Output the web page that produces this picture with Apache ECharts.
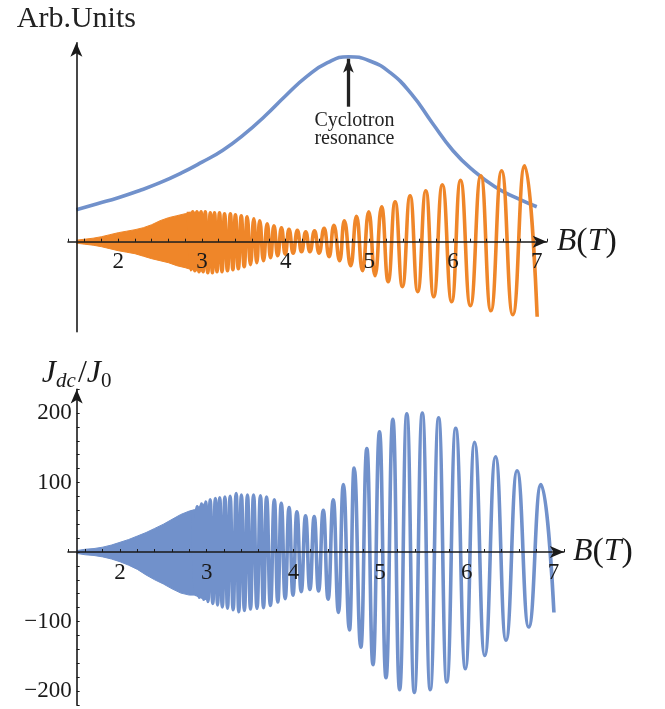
<!DOCTYPE html>
<html><head><meta charset="utf-8">
<script src="https://cdn.jsdelivr.net/npm/echarts@6/dist/echarts.min.js"></script>
<style>html,body{margin:0;padding:0;background:#fff}#c{width:665px;height:709px}</style>
</head><body><div id="c"></div>
<script>
// ---- data ----
// B positions of oscillation maxima / minima (shared by both panels)
const peakB = [2.84, 2.89, 2.94, 2.99, 3.04, 3.10, 3.15, 3.21, 3.27, 3.34, 3.40, 3.47, 3.54, 3.62, 3.69, 3.78, 3.86, 3.95, 4.04, 4.14, 4.24, 4.345, 4.46, 4.576, 4.70, 4.847, 4.993, 5.147, 5.308, 5.487, 5.675, 5.872, 6.089, 6.332, 6.58, 6.855];
const troughB = [2.865, 2.915, 2.965, 3.015, 3.07, 3.125, 3.18, 3.24, 3.305, 3.37, 3.435, 3.505, 3.58, 3.655, 3.735, 3.82, 3.905, 3.995, 4.09, 4.19, 4.29, 4.40, 4.52, 4.647, 4.778, 4.918, 5.068, 5.225, 5.395, 5.578, 5.769, 5.984, 6.207, 6.452, 6.714, 7.005];
// top panel (orange, arb. units)
const topPeakVal = [30,30,30,30,30,29,29,29,28,28,27,26,25,23,21,18,16,14,12.5,11.5,10,11,13.5,16.5,21,25.5,30,35,40,46,51,57,61.5,66,71,76];
const topTroughVal = [-28,-29,-30,-30,-31,-31,-30,-30,-29,-28,-27,-25,-23,-21,-19,-16,-14,-12.5,-11.5,-10,-10,-11.5,-15,-19,-24,-29,-34,-40,-45,-50,-55,-60,-64,-69,-73,-75];
// bottom panel (J_dc/J_0)
const botPeakVal = [60,65,69,72,75,77,78,79,80,84,82,82,82,81,79,75,70,64,58,52,51,60,75,97,121,149,173,191,199,200,193,178,158,137,117,97];
const botTroughVal = [-61,-65,-68,-71,-74,-76,-79,-81,-83,-86,-84,-82,-81,-80,-77,-72,-67,-62,-57,-54,-56,-68,-87,-112,-137,-162,-181,-198,-202,-198,-187,-168,-149,-127,-108,-87];
// unresolved (dense) oscillation region: envelopes
const bandB = [1.5, 1.6, 1.7, 1.8, 1.9, 2.0, 2.1, 2.2, 2.3, 2.4, 2.5, 2.6, 2.7, 2.8, 2.86, 2.93, 3.0];
const topBandUpper = [1.5, 2.5, 3.5, 5, 7, 9, 10.5, 12, 14, 17, 21, 24, 26, 28, 29.5, 29.5, 29.5];
const topBandLower = [-1.5, -2.5, -3.5, -5, -7, -9, -10.5, -12, -14.5, -17, -19, -21, -24, -26, -27.5, -29, -29.5];
const botBandUpper = [2, 4, 5, 7, 10, 14, 18, 23, 28, 34, 40, 47, 54, 59, 61, 67, 71];
const botBandLower = [-2, -4, -5, -7, -10, -14, -19, -25, -33, -40, -46, -53, -59, -62, -62, -66, -69];
// cyclotron resonance curve (top panel, blue)
const resB = [1.5, 1.75, 2.0, 2.25, 2.5, 2.75, 3.0, 3.25, 3.5, 3.75, 4.0, 4.25, 4.5, 4.75, 5.0, 5.25, 5.5, 5.75, 6.0, 6.25, 6.5, 6.75, 7.0];
const resVal = [32, 38, 44, 51, 59, 68.5, 79.5, 91.5, 107, 125.5, 146, 165, 179, 185, 181, 169, 148, 119, 91, 70.5, 55, 44, 35];
// annotation
const arrowB = 4.75, arrowFrom = 135, arrowTo = 183;
const annotationText = 'Cyclotron\nresonance';
const yLabelValues = [-200, -100, 100, 200];

// ---- build ----
function interleave(pv, tv) {
  const out = [];
  for (let i = 0; i < peakB.length; i++) {
    out.push([peakB[i], pv[i]]);
    out.push([troughB[i], tv[i]]);
  }
  return out;
}
function zip(xs, ys) { return xs.map((x, i) => [x, ys[i]]); }

const ORANGE = '#EF8629', BLUE = '#7191CB', AX = '#1a1a1a', FONT = 'Liberation Serif';
const X_MIN = 1.4, X_MAX = 7.12, Y_AXIS_AT = 1.5;
const grids = [
  { left: 68, top: 42.7, width: 478.8, height: 289, ymin: -90, ymax: 199 },
  { left: 68, top: 389.4, width: 495.9, height: 315.5, ymin: -220, ymax: 234 }
];
const intLabel = v => (Math.abs(v - Math.round(v)) < 1e-6 ? String(Math.round(v)) : '');
const arrowLine = { lineStyle: { color: AX, width: 1.6 }, symbol: ['none', 'arrow'], symbolSize: [9, 14] };
const bName = {
  rich: {
    i: { fontFamily: FONT, fontStyle: 'italic', fontSize: 32, color: AX },
    p: { fontFamily: FONT, fontSize: 34, color: AX }
  }
};
function xAx(gi, gap) {
  const g = grids[gi];
  const zeroFromBottom = (0 - g.ymin) / (g.ymax - g.ymin) * g.height;
  return {
    gridIndex: gi, type: 'value', min: X_MIN, max: X_MAX, interval: 0.2, z: 10,
    offset: -zeroFromBottom,
    axisLine: Object.assign({ onZero: false }, arrowLine),
    axisTick: { show: true, inside: true, length: 3, lineStyle: { color: AX, width: 1 } },
    axisLabel: { formatter: intLabel, fontFamily: FONT, fontSize: 23, color: AX, margin: 9 },
    splitLine: { show: false },
    name: '{i|B}{p|(}{i|T}{p|)}', nameLocation: 'end', nameGap: gap,
    nameTextStyle: bName
  };
}
function yOffset(gi) {
  const g = grids[gi];
  return -(Y_AXIS_AT - X_MIN) / (X_MAX - X_MIN) * g.width;
}
const lineBase = { type: 'line', showSymbol: false, symbol: 'none', animation: false };

const option = {
  animation: false,
  backgroundColor: '#fff',
  grid: grids.map(g => ({ left: g.left, top: g.top, width: g.width, height: g.height })),
  xAxis: [xAx(0, 10), xAx(1, 9)],
  yAxis: [
    {
      gridIndex: 0, type: 'value', min: grids[0].ymin, max: grids[0].ymax, offset: yOffset(0), z: 10,
      axisLine: arrowLine,
      axisTick: { show: false }, axisLabel: { show: false }, splitLine: { show: false },
      name: 'Arb.Units', nameLocation: 'end', nameGap: 9,
      nameTextStyle: { fontFamily: FONT, fontSize: 30, color: '#222' }
    },
    {
      gridIndex: 1, type: 'value', min: grids[1].ymin, max: grids[1].ymax, interval: 20, offset: yOffset(1), z: 10,
      axisLine: arrowLine,
      axisTick: { show: true, inside: true, length: 3, lineStyle: { color: AX, width: 1 } },
      axisLabel: {
        fontFamily: FONT, fontSize: 23, color: AX, margin: 5,
        formatter: v => (yLabelValues.indexOf(v) >= 0 ? (v < 0 ? '\u2212' + Math.abs(v) : String(v)) : '')
      },
      splitLine: { show: false },
      name: '{J|J}{s|dc}{n|/}{J|J}{z|0}', nameLocation: 'end', nameGap: 0,
      nameTextStyle: {
        rich: {
          J: { fontFamily: FONT, fontStyle: 'italic', fontSize: 32, lineHeight: 32, verticalAlign: 'top', color: AX },
          n: { fontFamily: FONT, fontSize: 32, lineHeight: 32, verticalAlign: 'top', color: AX },
          s: { fontFamily: FONT, fontStyle: 'italic', fontSize: 21, lineHeight: 21, padding: [14, 2, 0, 0], verticalAlign: 'top', color: AX },
          z: { fontFamily: FONT, fontSize: 21, lineHeight: 21, padding: [14, 0, 0, 0], verticalAlign: 'top', color: AX }
        }
      }
    }
  ],
  series: [
    Object.assign({}, lineBase, {
      name: 'resonance', xAxisIndex: 0, yAxisIndex: 0, smooth: 0.5,
      data: zip(resB, resVal), lineStyle: { color: BLUE, width: 3.6 }, z: 2,
      markLine: {
        silent: true, animation: false, symbol: ['none', 'arrow'], symbolSize: [8, 14],
        lineStyle: { color: '#222', width: 3.3, type: 'solid' },
        label: {
          show: true, position: 'start', distance: 5, formatter: annotationText,
          fontFamily: FONT, fontSize: 20, lineHeight: 18, color: '#222', padding: [0, 0, 0, 12]
        },
        data: [[{ coord: [arrowB, arrowFrom] }, { coord: [arrowB, arrowTo] }]]
      }
    }),
    Object.assign({}, lineBase, {
      xAxisIndex: 0, yAxisIndex: 0, data: zip(bandB, topBandUpper),
      lineStyle: { color: ORANGE, width: 1 }, areaStyle: { color: ORANGE, opacity: 1 }, z: 3
    }),
    Object.assign({}, lineBase, {
      xAxisIndex: 0, yAxisIndex: 0, data: zip(bandB, topBandLower),
      lineStyle: { color: ORANGE, width: 1 }, areaStyle: { color: ORANGE, opacity: 1 }, z: 3
    }),
    Object.assign({}, lineBase, {
      xAxisIndex: 0, yAxisIndex: 0, data: interleave(topPeakVal, topTroughVal), smooth: 0.5, smoothMonotone: 'x',
      lineStyle: { color: ORANGE, width: 3.6 }, z: 3
    }),
    Object.assign({}, lineBase, {
      xAxisIndex: 1, yAxisIndex: 1, data: zip(bandB, botBandUpper),
      lineStyle: { color: BLUE, width: 1 }, areaStyle: { color: BLUE, opacity: 1 }, z: 3
    }),
    Object.assign({}, lineBase, {
      xAxisIndex: 1, yAxisIndex: 1, data: zip(bandB, botBandLower),
      lineStyle: { color: BLUE, width: 1 }, areaStyle: { color: BLUE, opacity: 1 }, z: 3
    }),
    Object.assign({}, lineBase, {
      xAxisIndex: 1, yAxisIndex: 1, data: interleave(botPeakVal, botTroughVal), smooth: 0.5, smoothMonotone: 'x',
      lineStyle: { color: BLUE, width: 3.6 }, z: 3
    })
  ]
};
const chart = echarts.init(document.getElementById('c'), null, { renderer: 'canvas' });
chart.setOption(option);
</script>
</body></html>
